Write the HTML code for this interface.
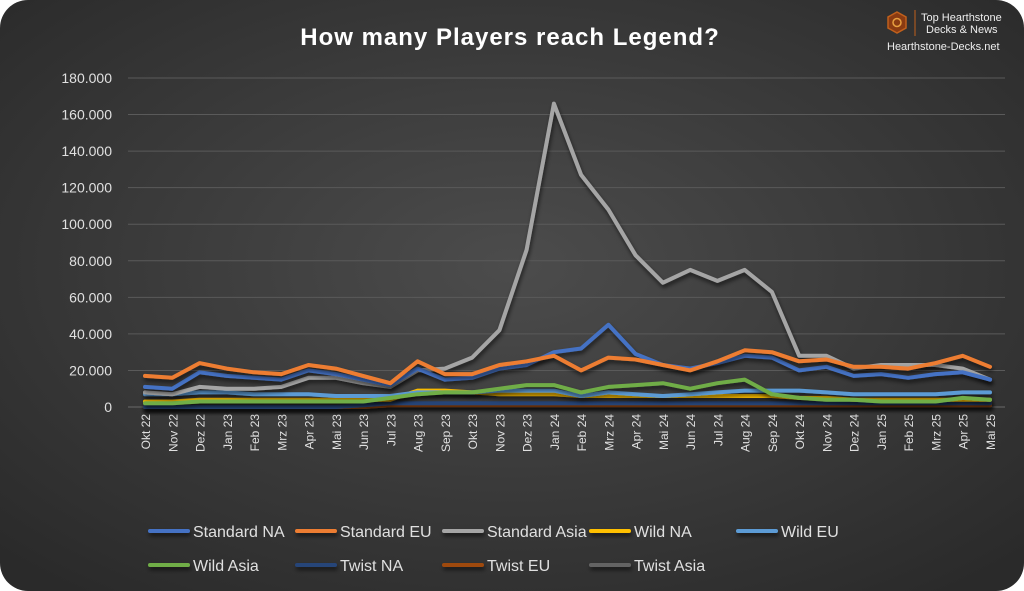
<!DOCTYPE html>
<html><head><meta charset="utf-8"><style>
html,body{margin:0;padding:0;background:#fff;}
#wrap{position:relative;width:1024px;height:591px;overflow:hidden;}
svg text{font-family:"Liberation Sans",sans-serif;}
</style></head><body>
<div id="wrap">
<svg id="chart" width="1024" height="591">
<defs>
<radialGradient id="bg" cx="50%" cy="45%" r="70%">
<stop offset="0%" stop-color="#4c4c4c"/><stop offset="100%" stop-color="#2a2a2a"/>
</radialGradient>
<filter id="sh" filterUnits="userSpaceOnUse" x="0" y="0" width="1024" height="591"><feDropShadow dx="1" dy="3" stdDeviation="2" flood-color="#000" flood-opacity="0.6"/></filter>
</defs>
<rect x="0" y="0" width="1024" height="591" rx="28" fill="url(#bg)"/>
<text x="510" y="45" text-anchor="middle" fill="#fff" font-size="24" font-weight="bold" letter-spacing="1">How many Players reach Legend?</text>
<g>
<polygon points="897,12 906,17 906,28 897,33 888,28 888,17" fill="#8a3b12" stroke="#c0601c" stroke-width="1.5"/>
<circle cx="897" cy="22.5" r="4" fill="none" stroke="#e8a040" stroke-width="1.5"/>
<line x1="915" y1="10" x2="915" y2="36" stroke="#c0601c"/>
<text x="921" y="21" fill="#eee" font-size="11">Top Hearthstone</text>
<text x="926" y="33" fill="#eee" font-size="11">Decks &amp; News</text>
<text x="887" y="50" fill="#eee" font-size="11">Hearthstone-Decks.net</text>
</g>
<g id="grid"></g><g id="ylab"></g><g id="xlab"></g><g id="lines"></g><g id="legend"></g>
</svg>
</div>
<script>
const months=["Okt 22","Nov 22","Dez 22","Jan 23","Feb 23","Mrz 23","Apr 23","Mai 23","Jun 23","Jul 23","Aug 23","Sep 23","Okt 23","Nov 23","Dez 23","Jan 24","Feb 24","Mrz 24","Apr 24","Mai 24","Jun 24","Jul 24","Aug 24","Sep 24","Okt 24","Nov 24","Dez 24","Jan 25","Feb 25","Mrz 25","Apr 25","Mai 25"];
const yTicks=[0,20000,40000,60000,80000,100000,120000,140000,160000,180000];
const yTickLabels=["0","20.000","40.000","60.000","80.000","100.000","120.000","140.000","160.000","180.000"];
const seriesNames=["Standard NA","Standard EU","Standard Asia","Wild NA","Wild EU","Wild Asia","Twist NA","Twist EU","Twist Asia"];
const standardNA=[11,10,19,17,16,15,20,18,15,12,21,15,16,21,23,30,32,45,29,23,21,24,28,27,20,22,17,18,16,18,19,15];
const standardEU=[17,16,24,21,19,18,23,21,17,13,25,18,18,23,25,28,20,27,26,23,20,25,31,30,25,26,22,22,21,24,28,22];
const standardAsia=[8,7,11,10,10,11,16,16,13,11,20,21,27,42,86,166,127,108,83,68,75,69,75,63,28,28,21,23,23,23,21,15];
const wildNA=[3,3,4,4,4,4,4,4,4,4,9,9,8,7,7,7,6,6,6,6,6,6,6,6,5,5,4,4,4,4,4,4];
const wildEU=[7,7,8,8,7,7,7,6,6,6,8,8,8,9,9,9,6,8,7,6,7,8,9,9,9,8,7,7,7,7,8,8];
const wildAsia=[2,2,3,3,3,3,3,3,3,5,7,8,8,10,12,12,8,11,12,13,10,13,15,7,5,4,4,3,3,3,5,4];
const twistNA=[0,0,0,0,0,0,0,0,1,2,2,2,2,2,2,2,2,2,2,2,2,2,2,2,2,2,2,2,2,2,2,2];
const twistEU=[0,0,0,0,0,0,0,0,0,1,1,1,1,1,1,1,1,1,1,1,1,1,1,1,1,1,1,1,1,1,1,1];
const twistAsia=[0,0,0,0,0,0,0,0,0,1,1,1,1,1,1,1,1,1,1,1,1,1,1,1,1,1,1,1,1,1,1,1];
const seriesData=[standardNA,standardEU,standardAsia,wildNA,wildEU,wildAsia,twistNA,twistEU,twistAsia];
const colors=["#4472c4","#ed7d31","#a5a5a5","#ffc000","#5b9bd5","#70ad47","#264478","#9e480e","#636363"];
const drawOrder=[8,7,6,3,4,5,2,0,1];
const NS="http://www.w3.org/2000/svg";
const x0=145,x1=990,yBase=407,yTop=78,yMax=180000;
const xs=i=>x0+i*(x1-x0)/(months.length-1);
const ys=v=>yBase-v/yMax*(yBase-yTop);
function mk(t,a,p){const e=document.createElementNS(NS,t);for(const k in a)e.setAttribute(k,a[k]);p.appendChild(e);return e;}
const grid=document.getElementById('grid'),ylab=document.getElementById('ylab'),xlab=document.getElementById('xlab'),lines=document.getElementById('lines'),legend=document.getElementById('legend');
yTicks.forEach((t,i)=>{
 const g=mk('line',{x1:128,x2:1005,y1:ys(t),y2:ys(t),stroke:i?"#5a5a5a":"#6a6a6a","stroke-width":1},grid);
 
 
 const tx=mk('text',{x:112,y:ys(t)+5,"text-anchor":"end",fill:"#e0e0e0","font-size":14},ylab);
 tx.textContent=yTickLabels[i];
 
 
});
months.forEach((m,i)=>{
 const tx=mk('text',{x:0,y:0,transform:`translate(${xs(i)+5},414) rotate(-90)`,"text-anchor":"end",fill:"#e0e0e0","font-size":12},xlab);
 tx.textContent=m;
 
 
});
drawOrder.forEach(s=>{
 const d=seriesData[s].map((v,i)=>(i?"L":"M")+xs(i).toFixed(1)+","+ys(v*1000).toFixed(1)).join(" ");
 const p=mk('path',{d:d,fill:"none",stroke:colors[s],"stroke-width":4,"stroke-linejoin":"round","stroke-linecap":"round",filter:"url(#sh)"},lines);
 
 
});
seriesNames.forEach((n,i)=>{
 const col=i<5?i:i-5,row=i<5?0:1;
 const lx=148+col*147,ly=531+row*34;
 const g=mk('g',{},legend);
 
 
 mk('rect',{x:lx,y:ly-2,width:42,height:4,rx:2,fill:colors[i],filter:"url(#sh)"},g);
 const t=mk('text',{x:lx+45,y:ly+6,fill:"#e0e0e0","font-size":16},g);
 t.textContent=n;
});
</script>
</body></html>
